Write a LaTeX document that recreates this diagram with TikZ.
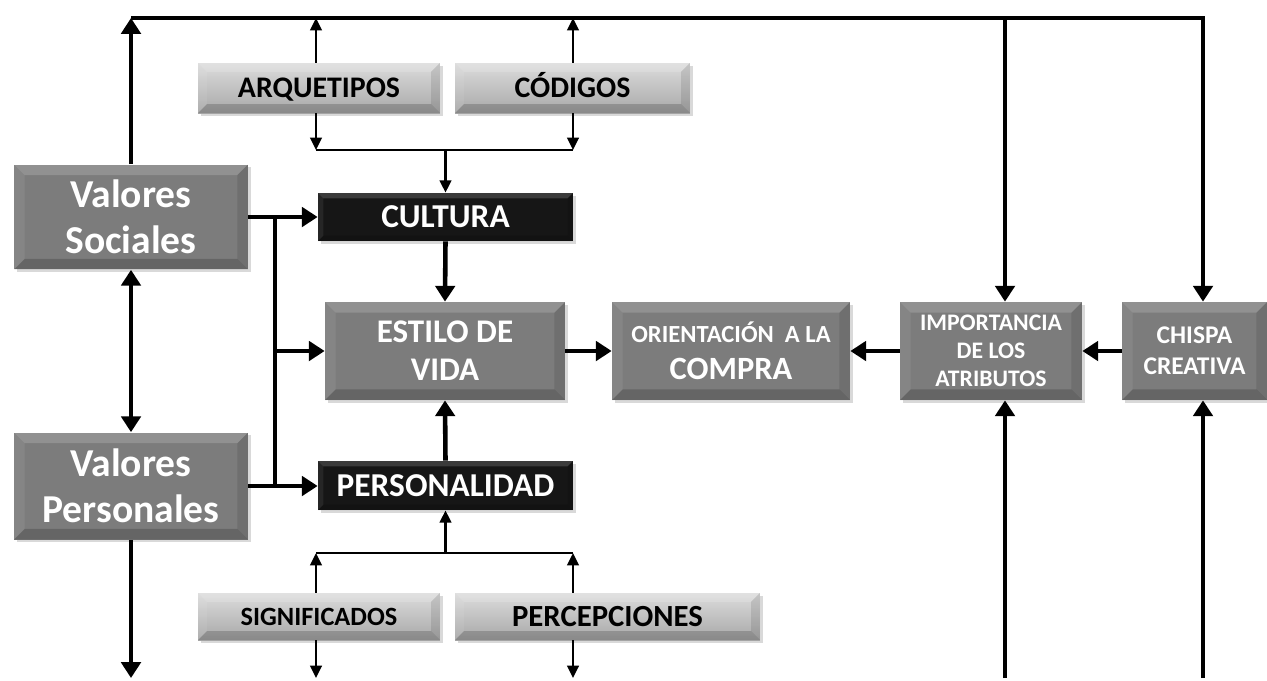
\documentclass[tikz,border=0pt]{standalone}
\usepackage{fontspec}
\setmainfont{Carlito}
\usetikzlibrary{arrows.meta,shadows}
\definecolor{grisbox}{HTML}{7C7C7C}
\definecolor{grisclaro}{HTML}{DCDCDC}
\definecolor{grisoscuro}{HTML}{A8A8A8}
\definecolor{negrobox}{HTML}{161616}
\newcommand{\tam}[2]{\bfseries\fontsize{#1}{#2}\selectfont}
\tikzset{
  bevel/.style={path picture={
    \fill[white,opacity=.16] (path picture bounding box.north west) -- (path picture bounding box.north east)
      -- ([shift={(-#1,-#1)}]path picture bounding box.north east) -- ([shift={(#1,-#1)}]path picture bounding box.north west) -- cycle;
    \fill[white,opacity=.07] (path picture bounding box.north west) -- (path picture bounding box.south west)
      -- ([shift={(#1,#1)}]path picture bounding box.south west) -- ([shift={(#1,-#1)}]path picture bounding box.north west) -- cycle;
    \fill[black,opacity=.10] (path picture bounding box.north east) -- (path picture bounding box.south east)
      -- ([shift={(-#1,#1)}]path picture bounding box.south east) -- ([shift={(-#1,-#1)}]path picture bounding box.north east) -- cycle;
    \fill[black,opacity=.18] (path picture bounding box.south west) -- (path picture bounding box.south east)
      -- ([shift={(-#1,#1)}]path picture bounding box.south east) -- ([shift={(#1,#1)}]path picture bounding box.south west) -- cycle;
  }},
  bevel/.default=6pt,
  caja/.style={inner sep=0pt, align=center, text=white,
    drop shadow={shadow xshift=1.5pt, shadow yshift=-1.5pt, opacity=.3}},
  unalinea/.style={text height=#1, text depth=0pt},
  gris/.style={caja, fill=grisbox, bevel},
  negra/.style={caja, fill=negrobox, bevel=3pt},
  clara/.style={caja, text=black, top color=grisclaro, bottom color=grisoscuro, bevel=5pt},
  flecha/.style={-{Triangle[width=11pt,length=9pt]}, line width=2.6pt},
  flechita/.style={-{Triangle[width=6.5pt,length=7pt]}, line width=1.6pt},
  linea/.style={line width=1.6pt}
}
\begin{document}
\begin{tikzpicture}[x=0.02cm,y=-0.02cm]
\useasboundingbox (0,0) rectangle (1267,680);

% cajas grises
\node[gris, minimum width=4.68cm, minimum height=2.1cm, font=\tam{22.5}{26}] (vsoc) at (131,217)
  {Valores\\Sociales};
\node[gris, minimum width=4.68cm, minimum height=2.14cm, font=\tam{22.5}{26}] (vper) at (131,486)
  {Valores\\Personales};
\node[gris, minimum width=4.8cm, minimum height=1.96cm, font=\tam{18.8}{21.5}] (est) at (445,351)
  {ESTILO DE\\VIDA};
\node[gris, minimum width=4.76cm, minimum height=1.96cm, font=\tam{14}{21}] (ori) at (731,351)
  {ORIENTACIÓN~~A LA\\{\tam{18.5}{21}COMPRA}};
\node[gris, minimum width=3.64cm, minimum height=1.96cm, font=\tam{13.5}{16}] (imp) at (991,351)
  {IMPORTANCIA\\DE LOS\\ATRIBUTOS};
\node[gris, minimum width=2.9cm, minimum height=1.96cm, font=\tam{14.5}{17.6}] (chi) at (1194.5,351)
  {CHISPA\\CREATIVA};

% cajas negras
\node[negra, unalinea=12.2pt, minimum width=5.1cm, minimum height=0.96cm, font=\tam{19}{21}] (cult) at (445.5,217)
  {CULTURA};
\node[negra, unalinea=12.2pt, minimum width=5.1cm, minimum height=0.98cm, font=\tam{19}{21}] (pers) at (445.5,485.5)
  {PERSONALIDAD};

% cajas claras
\node[clara, unalinea=11pt, minimum width=4.84cm, minimum height=1.0cm, font=\tam{17}{19}] (arq) at (319,88)
  {ARQUETIPOS};
\node[clara, unalinea=11pt, minimum width=4.7cm, minimum height=1.0cm, font=\tam{17}{19}] (cod) at (572.5,88)
  {CÓDIGOS};
\node[clara, unalinea=9.7pt, minimum width=4.84cm, minimum height=0.94cm, font=\tam{15}{17}] (sig) at (319,616.5)
  {SIGNIFICADOS};
\node[clara, unalinea=11.3pt, minimum width=6.1cm, minimum height=0.94cm, font=\tam{17.5}{19}] (per) at (607.5,616.5)
  {PERCEPCIONES};

% puntos de apoyo
\coordinate (ti) at (131,18);
\coordinate (td) at (1203,18);
\coordinate (tm) at (1005,18);
\coordinate (bus) at (275,0);
\coordinate (ka) at (316,150);
\coordinate (kc) at (573,150);
\coordinate (ks) at (316,553);
\coordinate (kp) at (573,553);
\coordinate (bv) at (128,678);
\coordinate (bs) at (316,678);
\coordinate (bp) at (573,678);
\coordinate (bm) at (1005,678);
\coordinate (bd) at (1203,678);

% linea superior
\draw[flecha] (ti) -- (td) -- (td |- chi.north);
\draw[flecha] (tm) -- (tm |- imp.north);
\draw[flecha] (vsoc.north) -- (ti);
\draw[flecha] (bm) -- (bm |- imp.south);
\draw[flecha] (bd) -- (bd |- chi.south);

% valores
\draw[{Triangle[width=11pt,length=9pt]}-{Triangle[width=11pt,length=9pt]}, line width=2.6pt]
  (vsoc.south) -- (vper.north);
\draw[flecha] (vper.south) -- (vper.south |- bv);
\draw[line width=2.6pt] (vsoc.east -| bus) -- (vper.east -| bus);
\draw[flecha] (vsoc.east) -- (vsoc.east -| cult.west);
\draw[flecha] (vper.east) -- (vper.east -| pers.west);
\draw[flecha] (bus |- est.west) -- (est.west);

% centro
\draw[flecha] (cult.south) -- (est.north);
\draw[flecha] (pers.north) -- (est.south);
\draw[flecha] (est.east) -- (ori.west);
\draw[flecha] (imp.west) -- (ori.east);
\draw[flecha] (chi.west) -- (imp.east);

% arquetipos y codigos
\draw[flechita] (ka |- arq.north) -- (ka |- ti);
\draw[flechita] (kc |- cod.north) -- (kc |- ti);
\draw[flechita] (ka |- arq.south) -- (ka);
\draw[flechita] (kc |- cod.south) -- (kc);
\draw[linea] (ka) -- (kc);
\draw[flechita] (ka -| cult.north) -- (cult.north);

% significados y percepciones
\draw[flechita] (ks |- sig.north) -- (ks);
\draw[flechita] (kp |- per.north) -- (kp);
\draw[linea] (ks) -- (kp);
\draw[flechita] (ks -| pers.south) -- (pers.south);
\draw[flechita] (bs |- sig.south) -- (bs);
\draw[flechita] (bp |- per.south) -- (bp);

\end{tikzpicture}
\end{document}
